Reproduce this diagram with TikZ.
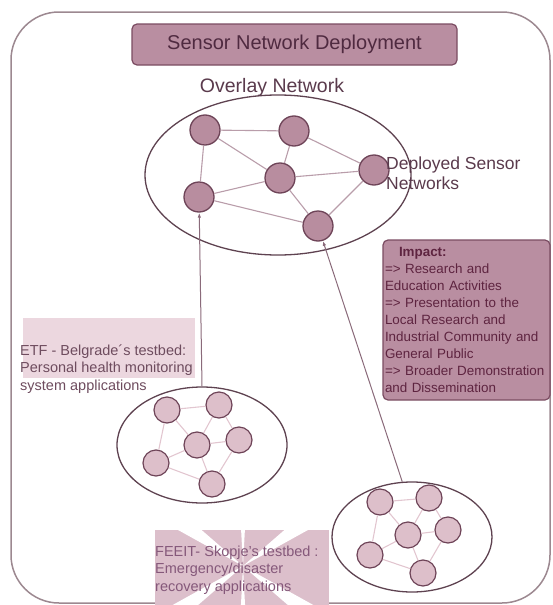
\documentclass[tikz,border=0pt]{standalone}
\usepackage{fontspec}
\setmainfont{Liberation Sans}
\usetikzlibrary{shapes.geometric,arrows.meta}

\definecolor{framec}{HTML}{9C8890}
\definecolor{boxfill}{HTML}{B98EA1}
\definecolor{boxline}{HTML}{7B4C62}
\definecolor{titlec}{HTML}{4F2A40}
\definecolor{labelc}{HTML}{5A3A4C}
\definecolor{impactc}{HTML}{5E2440}
\definecolor{bigfill}{HTML}{B88D9F}
\definecolor{nodeline}{HTML}{6E4458}
\definecolor{smallfill}{HTML}{DDBFCA}
\definecolor{toplinkc}{HTML}{B99DAA}
\definecolor{lowlinkc}{HTML}{E2C6D0}
\definecolor{ovalc}{HTML}{5E4250}
\definecolor{uplinkc}{HTML}{8A6A7A}
\definecolor{etfbg}{HTML}{ECD7DF}
\definecolor{etfc}{HTML}{6E4C5E}
\definecolor{feeitbg}{HTML}{DCBFCB}
\definecolor{feeitc}{HTML}{85587A}

\tikzset{
  bignode/.style={circle,draw=nodeline,fill=bigfill,line width=1.3pt,minimum size=30pt,inner sep=0pt},
  smallnode/.style={circle,draw=nodeline,fill=smallfill,line width=1.2pt,minimum size=26pt,inner sep=0pt},
  toplink/.style={draw=toplinkc,line width=1.1pt},
  lowlink/.style={draw=lowlinkc,line width=1.1pt},
  cloud/.style={ellipse,draw=ovalc,line width=1.3pt,inner sep=0pt},
  mauvebox/.style={draw=boxline,fill=boxfill,rounded corners=5pt,line width=1.2pt},
  uplink/.style={draw=uplinkc,line width=1pt,-{Latex[length=5pt,width=3.5pt]}},
}

\begin{document}
\begin{tikzpicture}[x=1pt,y=-1pt]
  \useasboundingbox (0,0) rectangle (552,605);

  % Frame
  \draw[framec,line width=1.5pt,rounded corners=48pt] (11,12) rectangle (550,603);

  % Backdrops of the testbed labels
  \fill[etfbg] (23,318) rectangle (195,378);
  \begin{scope}
    \clip (155,530) rectangle (329,605);
    \fill[feeitbg] (155,530) rectangle (329,605);
    \foreach \a in {35,145,215,325} \fill[white] (243,566) -- +(\a-6:220) -- +(\a+6:220) -- cycle;
    \foreach \a in {90,270} \fill[white] (243,566) -- +(\a-3:220) -- +(\a+3:220) -- cycle;
  \end{scope}

  % Network clouds
  \node[cloud,minimum width=266pt,minimum height=160pt] (overlayNet) at (278,175) {};
  \node[cloud,minimum width=170pt,minimum height=116pt] (lowL) at (202,445) {};
  \node[cloud,minimum width=160pt,minimum height=110pt] (lowR) at (412,537) {};

  % Draw nodes
  \foreach \n/\x/\y in {1/205/130,2/294/131,3/280/178,4/374/170,5/199/197,6/318/226}
    \node[bignode] (T\n) at (\x,\y) {};
  \foreach \n/\x/\y in {1/167/410,2/219/405,3/197/445,4/239/440,5/156/463,6/212/484}
    \node[smallnode] (L\n) at (\x,\y) {};
  \foreach \n/\x/\y in {1/380/502,2/429/498,3/408/535,4/448/530,5/370/555,6/423/573}
    \node[smallnode] (R\n) at (\x,\y) {};

  % Draw edges
  \foreach \a/\b in {1/2,1/3,1/5,2/3,2/4,3/4,3/5,3/6,4/6,5/6} {
    \draw[toplink] (T\a) -- (T\b);
    \draw[lowlink] (L\a) -- (L\b);
    \draw[lowlink] (R\a) -- (R\b);
  }
  \draw[uplink] (lowL.north) -- (T5);
  \draw[uplink] (lowR.100) -- (T6);

  % Labels
  \node[mauvebox,text=titlec,font=\fontsize{20}{24}\selectfont,minimum width=325pt,minimum height=41pt] (title) at (294.5,44.5) {Sensor Network Deployment};
  \node[text=labelc,font=\fontsize{19.5}{23}\selectfont] (overlay) at (272,87) {Overlay Network};
  \node[text=labelc,font=\fontsize{17.5}{20}\selectfont,align=left,anchor=west,inner sep=0pt] (deployed) at (386,173) {Deployed Sensor\\Networks};
  \node[mauvebox,text=impactc,font=\fontsize{13.4}{17}\selectfont,align=left,text width=163pt,minimum height=160pt,inner sep=2pt] (impact) at (466.5,320)
    {\hspace*{14pt}\textbf{Impact:}\\=> Research and\\Education Activities\\=> Presentation to the\\Local Research and\\Industrial Community and\\General Public\\=> Broader Demonstration\\and Dissemination};
  \node[text=etfc,font=\fontsize{14.5}{17.5}\selectfont,align=left,anchor=west,inner sep=0pt] (etf) at (20,369) {ETF - Belgrade´s testbed:\\Personal health monitoring\\system applications};
  \node[text=feeitc,font=\fontsize{14.5}{17.5}\selectfont,align=left,anchor=west,inner sep=0pt] (feeit) at (155,570) {FEEIT- Skopje's testbed :\\Emergency/disaster\\recovery applications};
\end{tikzpicture}
\end{document}
